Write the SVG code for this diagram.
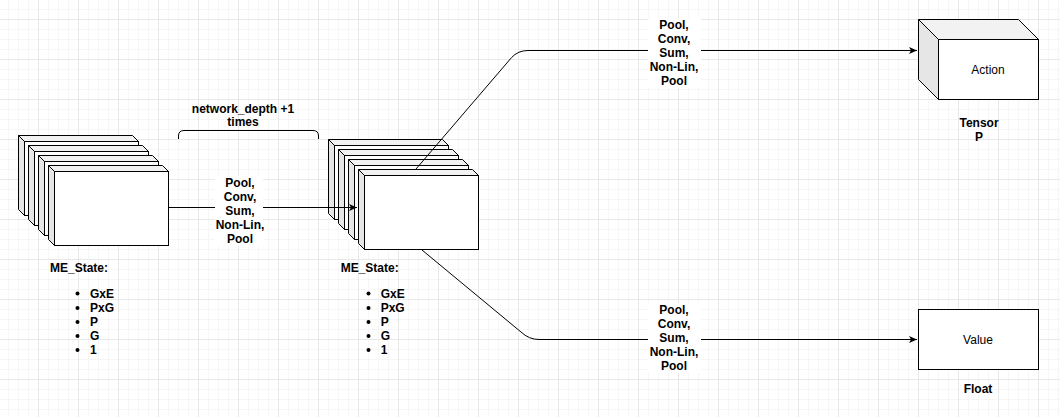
<svg xmlns="http://www.w3.org/2000/svg" xmlns:xlink="http://www.w3.org/1999/xlink" width="1060" height="417" viewBox="0 0 1060 417">
<style>
.t{font-family:"Liberation Sans",Arial,Helvetica,sans-serif;font-size:12px;fill:#000}
.b{font-weight:bold}
.c{text-anchor:middle}
.edge{fill:none;stroke:#000;stroke-width:1}
.ln{stroke:#000;stroke-width:1;stroke-linejoin:miter}
.side{fill:#e6e6e6}
.top{fill:#f2f2f2}
.front{fill:#fff}
.lbg{fill:#fff}
</style>
<defs>
<pattern id="gmin" patternUnits="userSpaceOnUse" x="8" y="9" width="10" height="10">
<path d="M0.5,0V10M0,0.5H10" stroke="#f6f6f6" stroke-width="1" fill="none"/>
</pattern>
<pattern id="gmaj" patternUnits="userSpaceOnUse" x="38" y="19" width="40" height="40">
<path d="M0.5,0V40M0,0.5H40" stroke="#e8e8e8" stroke-width="1" fill="none"/>
</pattern>
<marker id="arr" markerUnits="userSpaceOnUse" markerWidth="10" markerHeight="10" refX="9" refY="5" orient="auto" viewBox="0 0 10 10">
<path d="M1,1.5 L9,5 L1,8.5 L3,5 z" fill="#000"/>
</marker>
<g id="layer">
<path class="side ln" d="M0,0 L6,6 L6,80 L0,74 Z"/>
<path class="top ln" d="M0,0 L114,0 L120,6 L6,6 Z"/>
<rect class="front ln" x="6" y="6" width="114" height="74"/>
</g>
</defs>
<rect width="1060" height="417" fill="#fff"/>
<rect width="1060" height="417" fill="url(#gmin)"/>
<rect width="1060" height="417" fill="url(#gmaj)"/>

<g id="stack-input">
<use xlink:href="#layer" href="#layer" transform="translate(18.5,135.5)"/>
<use xlink:href="#layer" href="#layer" transform="translate(28.5,145.5)"/>
<use xlink:href="#layer" href="#layer" transform="translate(38.5,155.5)"/>
<use xlink:href="#layer" href="#layer" transform="translate(48.5,165.5)"/>
</g>

<g id="stack-hidden">
<use xlink:href="#layer" href="#layer" transform="translate(328.5,139.5)"/>
<use xlink:href="#layer" href="#layer" transform="translate(338.5,149.5)"/>
<use xlink:href="#layer" href="#layer" transform="translate(348.5,159.5)"/>
<use xlink:href="#layer" href="#layer" transform="translate(358.5,169.5)"/>
</g>

<g id="connectors">
<path class="edge" d="M168,207.5 L357,207.5" marker-end="url(#arr)"/>
<path class="edge" d="M416,169 L511.5,57.6 Q518,50.5 528,50.5 L917,50.5" marker-end="url(#arr)"/>
<path class="edge" d="M422,250 L521,332 Q529,339.5 539,339.5 L917,339.5" marker-end="url(#arr)"/>
<path class="edge" d="M178.5,139 L178.5,136 Q178.5,130.5 184,130.5 L313,130.5 Q318.5,130.5 318.5,136 L318.5,139"/>
</g>

<g id="label-mid">
<rect class="lbg" x="215" y="176" width="48" height="70"/>
<text class="t b c" x="240" y="187"><tspan x="240">Pool,</tspan><tspan x="240" dy="13.9">Conv,</tspan><tspan x="240" dy="13.9">Sum,</tspan><tspan x="240" dy="13.9">Non-Lin,</tspan><tspan x="240" dy="13.9">Pool</tspan></text>
</g>
<g id="label-top">
<rect class="lbg" x="648" y="18" width="53" height="70"/>
<text class="t b c" x="674" y="29.3"><tspan x="674">Pool,</tspan><tspan x="674" dy="13.9">Conv,</tspan><tspan x="674" dy="13.9">Sum,</tspan><tspan x="674" dy="13.9">Non-Lin,</tspan><tspan x="674" dy="13.9">Pool</tspan></text>
</g>
<g id="label-bottom">
<rect class="lbg" x="648" y="303" width="53" height="70"/>
<text class="t b c" x="674" y="314.3"><tspan x="674">Pool,</tspan><tspan x="674" dy="13.9">Conv,</tspan><tspan x="674" dy="13.9">Sum,</tspan><tspan x="674" dy="13.9">Non-Lin,</tspan><tspan x="674" dy="13.9">Pool</tspan></text>
</g>

<g id="brace-label">
<text class="t b c" x="243" y="112.6">network_depth +1</text>
<text class="t b c" x="243" y="126">times</text>
</g>

<g id="state-left">
<text class="t b" x="50" y="271.6">ME_State:</text>
<circle cx="77.5" cy="293.5" r="2"/><text class="t b" x="90" y="297.6">GxE</text>
<circle cx="77.5" cy="308" r="2"/><text class="t b" x="90" y="312.1">PxG</text>
<circle cx="77.5" cy="322" r="2"/><text class="t b" x="90" y="326.1">P</text>
<circle cx="77.5" cy="336" r="2"/><text class="t b" x="90" y="340.2">G</text>
<circle cx="77.5" cy="350" r="2"/><text class="t b" x="90" y="354.3">1</text>
</g>

<g id="state-mid">
<text class="t b" x="340.7" y="271.6">ME_State:</text>
<circle cx="368.5" cy="293.5" r="2"/><text class="t b" x="380.7" y="297.6">GxE</text>
<circle cx="368.5" cy="308" r="2"/><text class="t b" x="380.7" y="312.1">PxG</text>
<circle cx="368.5" cy="322" r="2"/><text class="t b" x="380.7" y="326.1">P</text>
<circle cx="368.5" cy="336" r="2"/><text class="t b" x="380.7" y="340.2">G</text>
<circle cx="368.5" cy="350" r="2"/><text class="t b" x="380.7" y="354.3">1</text>
</g>

<g id="action">
<path class="side ln" d="M918.5,19.5 L938.5,39.5 L938.5,99.5 L918.5,79.5 Z"/>
<path class="top ln" d="M918.5,19.5 L1018.5,19.5 L1038.5,39.5 L938.5,39.5 Z"/>
<rect class="front ln" x="938.5" y="39.5" width="100" height="60"/>
<text class="t c" x="988" y="74">Action</text>
</g>
<g id="action-label">
<text class="t b c" x="979" y="127">Tensor</text>
<text class="t b c" x="979" y="140.5">P</text>
</g>

<g id="value">
<rect class="front ln" x="918.5" y="309.5" width="120" height="60"/>
<text class="t c" x="978" y="344">Value</text>
</g>
<g id="value-label">
<text class="t b c" x="978" y="393">Float</text>
</g>
</svg>
